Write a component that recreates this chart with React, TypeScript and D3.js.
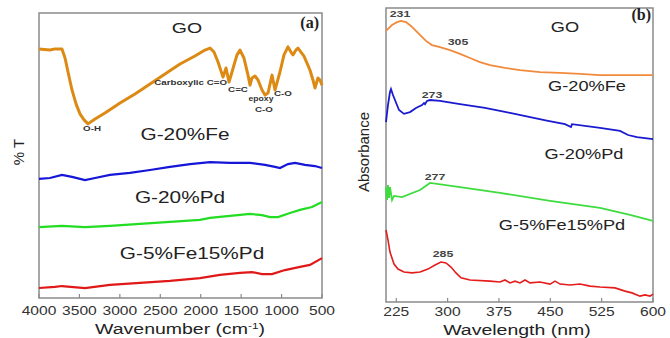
import React from "react";
import * as d3 from "d3";

// ---- panel (a): FTIR, wavenumber (cm-1) vs %T (arbitrary offset units)
const ftirTicks = [4000, 3500, 3000, 2500, 2000, 1500, 1000, 500];

const ftirGO: [number, number][] = [
  [4000, 87.4], [3864, 87.0], [3802, 87.4], [3716, 87.4], [3678, 84.2], [3641, 79.3],
  [3592, 73.0], [3542, 68.1], [3493, 64.6], [3443, 62.5], [3394, 61.1], [3307, 62.8],
  [3184, 64.9], [2998, 68.4], [2813, 71.6], [2627, 75.1], [2442, 78.6], [2256, 82.1],
  [2071, 84.9], [1947, 87.0], [1885, 87.7], [1836, 86.3], [1786, 82.8], [1724, 77.5],
  [1687, 80.7], [1650, 75.8], [1613, 79.3], [1588, 81.8], [1551, 85.3], [1514, 87.0],
  [1465, 84.2], [1415, 78.2], [1390, 74.7], [1366, 77.2], [1329, 77.9], [1291, 76.5],
  [1242, 73.0], [1205, 71.2], [1168, 71.9], [1118, 78.2], [1081, 73.0], [1020, 79.3],
  [970, 85.3], [921, 88.1], [884, 86.3], [859, 85.3], [822, 87.0], [797, 87.7],
  [723, 84.9], [649, 80.0], [612, 76.5], [587, 73.7], [550, 77.2], [525, 76.5], [500, 74.7],
];

const ftirFe: [number, number][] = [
  [4000, 41.8], [3864, 42.1], [3716, 43.2], [3592, 42.5], [3431, 41.4], [3307, 42.1],
  [3122, 43.2], [2875, 43.9], [2627, 44.9], [2380, 46.0], [2132, 47.0], [1885, 47.7],
  [1638, 47.4], [1390, 47.4], [1205, 46.7], [1081, 46.0], [1020, 45.6], [921, 47.0],
  [834, 47.4], [711, 46.7], [587, 46.3], [500, 45.6],
];

const ftirPd: [number, number][] = [
  [4000, 24.9], [3716, 25.3], [3431, 24.9], [3122, 25.3], [2751, 26.0], [2380, 26.7],
  [2009, 27.4], [1885, 28.1], [1638, 28.8], [1390, 29.5], [1242, 29.1], [1143, 28.4],
  [1044, 28.4], [896, 29.8], [772, 30.9], [624, 31.9], [500, 33.7],
];

const ftirFePd: [number, number][] = [
  [4000, 3.5], [3802, 3.9], [3716, 4.2], [3431, 3.5], [3122, 4.6], [2751, 5.3],
  [2380, 6.0], [2009, 7.0], [1762, 8.1], [1514, 8.8], [1366, 9.1], [1242, 8.4],
  [1118, 8.4], [958, 9.8], [772, 10.9], [649, 11.6], [500, 14.0],
];

// ---- panel (b): UV-vis, wavelength (nm) vs absorbance (arbitrary offset units)
const uvTicks = [225, 300, 375, 450, 525, 600];

const uvGO: [number, number][] = [
  [210, 92.2], [218.8, 94.2], [226.1, 95.2], [231.9, 95.6], [239.2, 95.2], [246.5, 93.9],
  [253.8, 92.2], [261.1, 90.5], [268.4, 88.8], [277.2, 87.4], [288.9, 86.7], [303.5, 85.7],
  [318.1, 84.4], [332.7, 83.0], [347.3, 81.6], [361.9, 80.6], [383.8, 79.6], [405.7, 78.9],
  [434.9, 78.2], [464.2, 77.9], [493.4, 77.6], [522.6, 77.2], [566.4, 77.2], [600, 77.2],
];

const uvFe: [number, number][] = [
  [210, 61.2], [212.9, 67.0], [215.8, 71.4], [217.3, 72.4], [220.2, 70.4], [223.1, 68.7],
  [229.0, 65.3], [236.3, 64.0], [245.1, 64.6], [253.8, 66.0], [262.6, 67.0], [265.5, 67.7],
  [267.0, 67.3], [269.9, 68.4], [274.3, 68.7], [288.9, 68.4], [318.1, 67.3], [354.6, 66.0],
  [391.1, 64.3], [446.6, 61.6], [471.5, 60.5], [480.2, 59.5], [481.7, 60.5], [522.6, 59.2],
  [551.8, 58.2], [563.5, 56.8], [576.6, 56.1], [600, 55.4],
];

const uvPd: [number, number][] = [
  [210, 38.8], [211.5, 34.7], [212.9, 39.8], [214.4, 35.4], [215.8, 39.1], [218.8, 34.7],
  [221.7, 36.1], [233.4, 35.7], [259.7, 38.1], [274.3, 40.5], [318.1, 39.1], [376.5, 37.1],
  [449.6, 34.4], [522.6, 32.0], [566.4, 29.6], [600, 27.6],
];

const uvFePd: [number, number][] = [
  [210, 24.5], [212.9, 21.1], [215.8, 17.0], [221.7, 12.9], [227.5, 11.2], [236.3, 10.2],
  [248, 9.9], [259.7, 10.2], [271.3, 11.2], [281.6, 12.6], [290.3, 13.6], [297.6, 13.3],
  [304.9, 11.9], [312.2, 9.9], [319.6, 8.2], [332.7, 7.5], [361.9, 7.1], [376.5, 6.8],
  [383.8, 7.5], [391.1, 6.5], [398.4, 7.1], [405.7, 6.5], [413, 7.5], [420.3, 6.5],
  [434.9, 6.8], [449.6, 6.1], [456.9, 7.1], [464.2, 6.1], [478.8, 5.8], [493.4, 6.1],
  [508, 5.4], [522.6, 5.1], [544.5, 4.8], [559.1, 3.7], [569.3, 3.1], [581, 2.0],
  [588.3, 2.4], [595.6, 2.0], [600, 2.7],
];

const FONT = "'Liberation Sans', Arial, sans-serif";
const SX = 1.3; // text in the source is stretched horizontally

const Label = ({ x, y, text, size = 15, weight = 400, fill = "#222", anchor = "middle", sx = SX }: any) => (
  <text
    transform={`translate(${x},${y}) scale(${sx},1)`}
    textAnchor={anchor}
    fontFamily={FONT}
    fontSize={size}
    fontWeight={weight}
    fill={fill}
  >
    {text}
  </text>
);

export default function App() {
  // panel (a)
  const xa = d3.scaleLinear().domain([4000, 500]).range([39, 322]);
  const ya = d3.scaleLinear().domain([0, 100]).range([298, 13]);
  const lineA = d3.line<[number, number]>().x((d) => xa(d[0])).y((d) => ya(d[1]));

  // panel (b)
  const xb = d3.scaleLinear().domain([210, 600]).range([386, 653]);
  const yb = d3.scaleLinear().domain([0, 100]).range([302, 8]);
  const lineB = d3.line<[number, number]>().x((d) => xb(d[0])).y((d) => yb(d[1]));

  const frame = "#8a8a8a";

  return (
    <svg width={670} height={338} style={{ position: "absolute", left: 0, top: 0, background: "#fff" }}>
      {/* ---------- (a) ---------- */}
      <rect x={39} y={13} width={283} height={285} fill="none" stroke={frame} strokeWidth={1.5} />
      {ftirTicks.map((t) => (
        <g key={t}>
          <line x1={xa(t)} x2={xa(t)} y1={298} y2={294} stroke={frame} strokeWidth={1.2} />
          <Label x={xa(t)} y={315} text={t} size={12} fill="#333" />
        </g>
      ))}
      <Label x={180} y={334} text={<>Wavenumber (cm<tspan dy={-5} fontSize={9}>-1</tspan><tspan dy={5}>)</tspan></>} size={15} />
      <text transform="translate(24,152) rotate(-90)" textAnchor="middle" fontFamily={FONT} fontSize={15} fill="#222">
        % T
      </text>

      <path d={lineA(ftirGO) || ""} fill="none" stroke="#dc8a14" strokeWidth={3} strokeLinejoin="round" />
      <path d={lineA(ftirFe) || ""} fill="none" stroke="#1616d8" strokeWidth={2.2} />
      <path d={lineA(ftirPd) || ""} fill="none" stroke="#22dd22" strokeWidth={2.2} />
      <path d={lineA(ftirFePd) || ""} fill="none" stroke="#e01818" strokeWidth={2.2} />

      <Label x={187} y={33} text="GO" size={15} />
      <text x={319} y={28} textAnchor="end" fontFamily="'Liberation Serif', serif" fontWeight={700} fontSize={16} fill="#222">(a)</text>
      <Label x={185} y={140} text="G-20%Fe" size={16} />
      <Label x={180} y={203} text="G-20%Pd" size={16} />
      <Label x={192} y={259} text="G-5%Fe15%Pd" size={16} />
      <Label x={227} y={85} text="Carboxylic C=O" size={7.5} weight={700} anchor="end" fill="#333" />
      <Label x={238} y={92} text="C=C" size={7.5} weight={700} fill="#333" />
      <Label x={261} y={101} text="epoxy" size={7.5} weight={700} fill="#333" sx={1.15} />
      <Label x={264} y={112} text="C-O" size={7.5} weight={700} fill="#333" />
      <Label x={283} y={96} text="C-O" size={7.5} weight={700} fill="#333" />
      <Label x={92} y={131} text="O-H" size={7.5} weight={700} fill="#333" />

      {/* ---------- (b) ---------- */}
      <rect x={386} y={8} width={267} height={294} fill="none" stroke={frame} strokeWidth={1.5} />
      {uvTicks.map((t) => (
        <g key={t}>
          <line x1={xb(t)} x2={xb(t)} y1={302} y2={298} stroke={frame} strokeWidth={1.2} />
          <Label x={xb(t)} y={316} text={t} size={12} fill="#333" />
        </g>
      ))}
      <Label x={517} y={335} text="Wavelength (nm)" size={15} />
      <text transform="translate(369,152) rotate(-90)" textAnchor="middle" fontFamily={FONT} fontSize={15} fill="#222">
        Absorbance
      </text>

      <path d={lineB(uvGO) || ""} fill="none" stroke="#f28a3c" strokeWidth={1.8} />
      <path d={lineB(uvFe) || ""} fill="none" stroke="#1a1ad0" strokeWidth={1.8} />
      <path d={lineB(uvPd) || ""} fill="none" stroke="#3fdc3f" strokeWidth={1.8} />
      <path d={lineB(uvFePd) || ""} fill="none" stroke="#e41c1c" strokeWidth={1.6} />

      <Label x={400} y={17} text="231" size={9.5} weight={700} fill="#444" />
      <Label x={458} y={45} text="305" size={9.5} weight={700} fill="#444" />
      <Label x={432} y={98} text="273" size={9.5} weight={700} fill="#444" />
      <Label x={435} y={180} text="277" size={9.5} weight={700} fill="#444" />
      <Label x={443} y={257} text="285" size={9.5} weight={700} fill="#444" />
      <Label x={565} y={32} text="GO" size={14} />
      <text x={651} y={20} textAnchor="end" fontFamily="'Liberation Serif', serif" fontWeight={700} fontSize={16} fill="#222">(b)</text>
      <Label x={587} y={91} text="G-20%Fe" size={14} />
      <Label x={584} y={159} text="G-20%Pd" size={14} />
      <Label x={562} y={230} text="G-5%Fe15%Pd" size={14} />
    </svg>
  );
}
